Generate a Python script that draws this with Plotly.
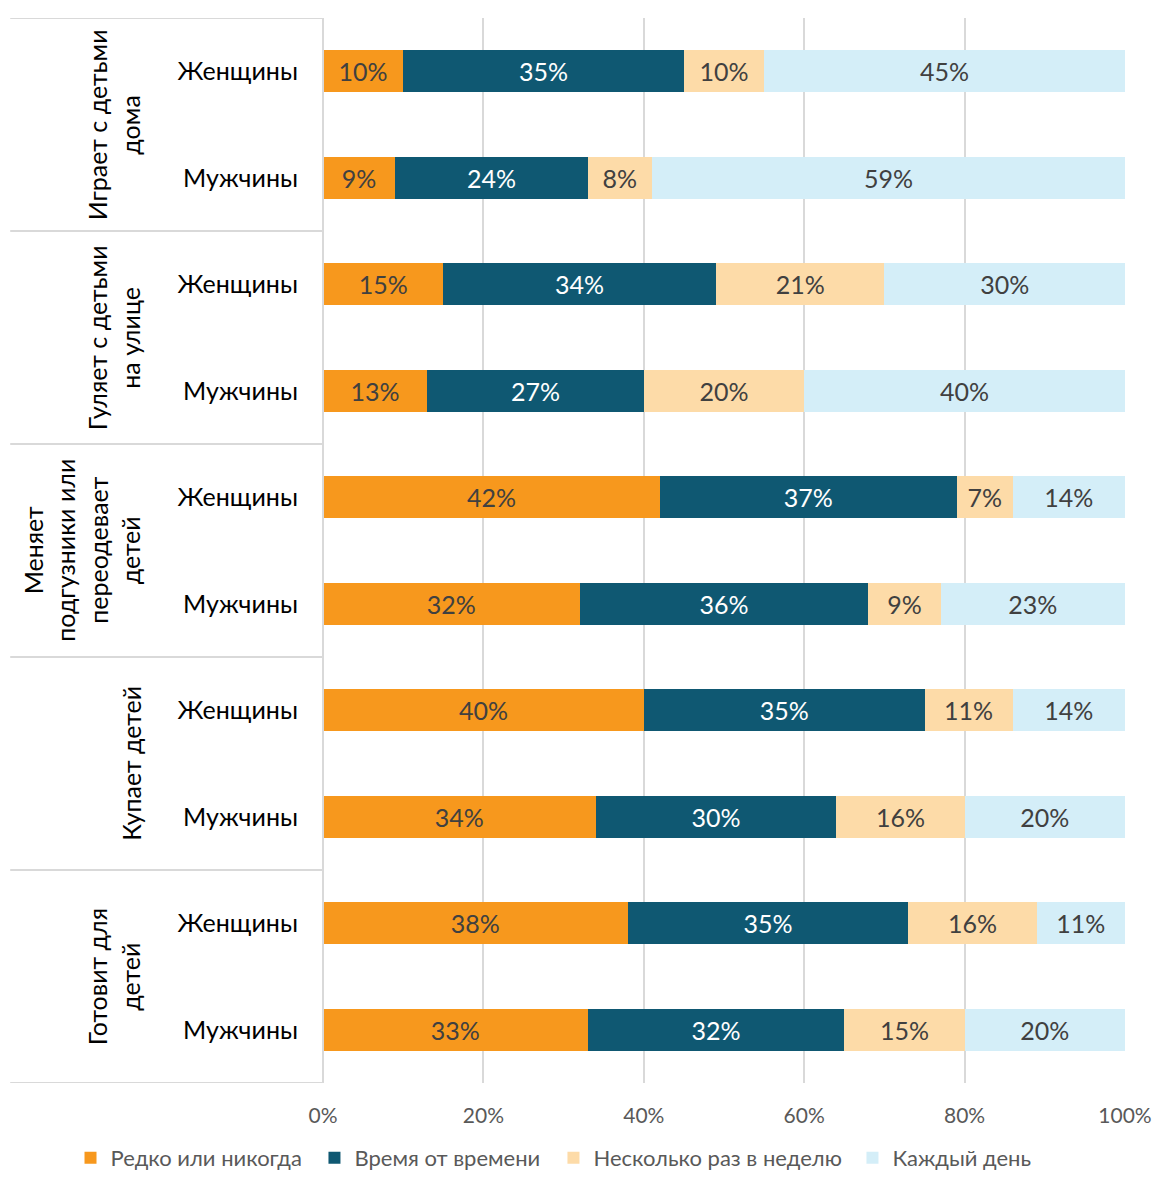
import plotly.graph_objects as go

# Survey data: share of respondents by frequency of each childcare activity
groups = [
    "Играет с детьми<br>дома",
    "Гуляет с детьми<br>на улице",
    "Меняет<br>подгузники или<br>переодевает<br>детей",
    "Купает детей",
    "Готовит для<br>детей",
]
subgroups = ["Женщины", "Мужчины"]

series_names = ["Редко или никогда", "Время от времени", "Несколько раз в неделю", "Каждый день"]
rarely = [10, 9, 15, 13, 42, 32, 40, 34, 38, 33]
sometimes = [35, 24, 34, 27, 37, 36, 35, 30, 35, 32]
weekly = [10, 8, 21, 20, 7, 9, 11, 16, 16, 15]
daily = [45, 59, 30, 40, 14, 23, 14, 20, 11, 20]

x_ticks = [0, 20, 40, 60, 80, 100]

colors = ["#F7981D", "#0F5872", "#FDDBA8", "#D4EEF8"]
text_colors = ["#404040", "#FFFFFF", "#404040", "#404040"]

FONT = "Lato"
rows = list(range(len(rarely)))
row_labels = [subgroups[i % 2] for i in rows]

# One single-entry legend per series, laid out in a row under the chart
legend_ids = ["legend", "legend2", "legend3", "legend4"]
legend_x = [0.0611, 0.2725, 0.4796, 0.7387]

fig = go.Figure()
for name, vals, col, tcol, lid in zip(series_names, [rarely, sometimes, weekly, daily],
                                      colors, text_colors, legend_ids):
    fig.add_trace(go.Bar(
        y=rows, x=vals, name=name, orientation="h",
        marker=dict(color=col, line=dict(width=0)),
        width=0.395,
        text=[f"{v}%" for v in vals],
        textposition="inside", insidetextanchor="middle",
        textangle=0, constraintext="none",
        textfont=dict(family=FONT, size=25, color=tcol),
        hoverinfo="skip",
        legend=lid,
    ))

# Group dividers in the label column
shapes = []
for b in [-0.5, 1.5, 3.5, 5.5, 7.5, 9.5]:
    shapes.append(dict(type="line", xref="paper", yref="y", x0=-0.39, x1=0, y0=b, y1=b,
                       line=dict(color="#D9D9D9", width=2)))
shapes.append(dict(type="line", xref="paper", yref="y", x0=0, x1=0, y0=-0.5, y1=9.5,
                   line=dict(color="#D9D9D9", width=2)))

annotations = []
for i, g in enumerate(groups):
    annotations.append(dict(
        text=g, xref="paper", yref="y", x=-0.219, y=2 * i + 0.5,
        xanchor="right", yanchor="middle", textangle=-90, showarrow=False,
        align="center", font=dict(family=FONT, size=25, color="#000000"),
    ))

legend_style = dict(orientation="h", xref="container", yref="container",
                    xanchor="left", y=0.0, yanchor="bottom", itemwidth=30,
                    bgcolor="rgba(0,0,0,0)", borderwidth=0,
                    font=dict(family=FONT, size=22, color="#595959"))
legends = {lid: dict(legend_style, x=lx) for lid, lx in zip(legend_ids, legend_x)}

fig.update_layout(
    barmode="stack",
    width=1154, height=1179,
    margin=dict(l=323, r=29, t=18, b=96, autoexpand=False),
    plot_bgcolor="white", paper_bgcolor="white",
    shapes=shapes, annotations=annotations,
    showlegend=True,
    xaxis=dict(range=[0, 100], tickvals=x_ticks, ticktext=[f"{t}%" for t in x_ticks],
               showgrid=True, gridcolor="#D9D9D9", gridwidth=2, zeroline=False,
               showline=False, ticks="", ticklabelstandoff=18,
               tickfont=dict(family=FONT, size=21, color="#595959")),
    yaxis=dict(range=[9.5, -0.5], tickvals=rows, ticktext=row_labels,
               showgrid=False, zeroline=False, showline=False, ticks="",
               ticklabelstandoff=24,
               tickfont=dict(family=FONT, size=25, color="#000000")),
    uniformtext=dict(minsize=25, mode="show"),
    **legends,
)

fig.write_html("out.html")
